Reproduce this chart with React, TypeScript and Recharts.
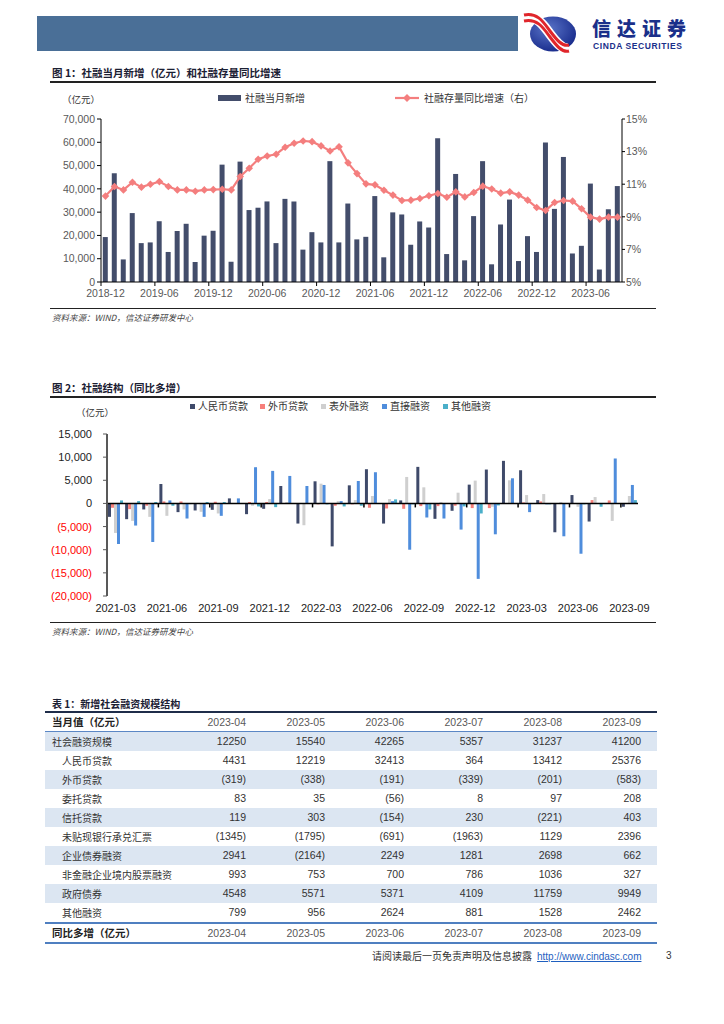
import React from 'react';
import { ComposedChart, BarChart, Bar, Line, XAxis, YAxis, ReferenceLine } from 'recharts';

// 图1：社融当月新增（亿元）与存量同比增速（%）
const tsfMonths = [
  '2018-12', '2019-01', '2019-02', '2019-03', '2019-04', '2019-05', '2019-06', '2019-07', '2019-08', '2019-09',
  '2019-10', '2019-11', '2019-12', '2020-01', '2020-02', '2020-03', '2020-04', '2020-05', '2020-06', '2020-07',
  '2020-08', '2020-09', '2020-10', '2020-11', '2020-12', '2021-01', '2021-02', '2021-03', '2021-04', '2021-05',
  '2021-06', '2021-07', '2021-08', '2021-09', '2021-10', '2021-11', '2021-12', '2022-01', '2022-02', '2022-03',
  '2022-04', '2022-05', '2022-06', '2022-07', '2022-08', '2022-09', '2022-10', '2022-11', '2022-12', '2023-01',
  '2023-02', '2023-03', '2023-04', '2023-05', '2023-06', '2023-07', '2023-08', '2023-09',
];
const tsfNew = [
  19300, 46700, 9700, 29600, 16700, 17000, 26100, 12900, 21900, 25000,
  8600, 19900, 22000, 50400, 8700, 51700, 30900, 31900, 34600, 16700,
  35700, 34600, 13900, 21400, 17000, 51900, 17000, 33700, 18300, 19400,
  36900, 10600, 29900, 29000, 16000, 26000, 23400, 61700, 12000, 46400,
  9300, 28300, 51900, 7600, 24700, 35400, 9000, 19700, 12900, 59900,
  31400, 53700, 12250, 15540, 42265, 5357, 31237, 41200,
];
const tsfYoy = [
  10.27, 10.86, 10.65, 11.12, 10.82, 11.0, 11.16, 10.86, 10.65, 10.65,
  10.57, 10.65, 10.67, 10.69, 10.65, 11.47, 11.98, 12.53, 12.73, 12.84,
  13.27, 13.51, 13.65, 13.61, 13.35, 13.04, 13.29, 12.31, 11.65, 11.02,
  10.96, 10.63, 10.33, 10.0, 10.02, 10.12, 10.29, 10.43, 10.2, 10.53,
  10.22, 10.49, 10.88, 10.71, 10.45, 10.53, 10.33, 10.02, 9.57, 9.39,
  9.88, 10.0, 9.96, 9.49, 8.98, 8.86, 8.98, 8.98,
];
const leftTicks1 = [0, 10000, 20000, 30000, 40000, 50000, 60000, 70000];
const rightTicks1 = [5, 7, 9, 11, 13, 15];

// 图2：社融结构（同比多增，亿元）
const structMonths = [
  '2021-03', '2021-04', '2021-05', '2021-06', '2021-07', '2021-08', '2021-09', '2021-10', '2021-11', '2021-12',
  '2022-01', '2022-02', '2022-03', '2022-04', '2022-05', '2022-06', '2022-07', '2022-08', '2022-09', '2022-10',
  '2022-11', '2022-12', '2023-01', '2023-02', '2023-03', '2023-04', '2023-05', '2023-06', '2023-07', '2023-08',
  '2023-09',
];
const rmbLoan = [
  -2900, -3400, -1300, 4200, -1880, -1520, -1380, 1090, -2320, -1160,
  3770, -4350, 4780, -9280, 3910, 7390, -4350, 650, 7900, -3330,
  -1590, 4060, 7320, 9200, 7170, 720, -6230, 1810, -3910, -100,
  -720,
];
const fxLoan = [
  -940, -1230, -500, 430, 430, -100, 360, 50, 300, 300,
  100, -100, -200, -500, -200, -940, -1090, -1160, -580, -580,
  -500, -1010, -1010, 50, 220, 430, 50, -50, 720, 650,
  50,
];
const offBalance = [
  -6380, -3770, -2900, -2680, -1300, -1810, -2170, -100, -500, 940,
  300, -4710, 4270, 500, 720, 1600, 940, 5720, 3480, 300,
  2320, 4930, -720, 5000, 1810, 2030, 300, -720, 1380, -3770,
  1600,
];
const directFin = [
  -8770, -4780, -8330, 650, -3260, -2900, -2680, 1090, 7830, 7030,
  5940, 3770, 3990, 500, 4850, 6740, 500, -10000, -3040, -3260,
  -5650, -16300, -6670, 5430, -1880, -200, -7100, -10870, -100, 9710,
  3990,
];
const otherFin = [
  650, 500, 300, -500, -150, 300, 300, 0, -650, -800,
  -100, 50, -200, -650, -500, 100, 870, -200, -1300, 50,
  -650, -2170, -430, 50, -100, -200, 50, -200, -720, 50,
  720,
];
const structTicks = [-20000, -15000, -10000, -5000, 0, 5000, 10000, 15000];

// 表1：新增社会融资规模结构
const tableMonths = ['2023-04', '2023-05', '2023-06', '2023-07', '2023-08', '2023-09'];
const tableLabels = [
  '社会融资规模', '人民币贷款', '外币贷款', '委托贷款', '信托贷款',
  '未贴现银行承兑汇票', '企业债券融资', '非金融企业境内股票融资', '政府债券', '其他融资',
];
const tableValues = [
  [12250, 15540, 42265, 5357, 31237, 41200],
  [4431, 12219, 32413, 364, 13412, 25376],
  [-319, -338, -191, -339, -201, -583],
  [83, 35, -56, 8, 97, 208],
  [119, 303, -154, 230, -221, 403],
  [-1345, -1795, -691, -1963, 1129, 2396],
  [2941, -2164, 2249, 1281, 2698, 662],
  [993, 753, 700, 786, 1036, 327],
  [4548, 5571, 5371, 4109, 11759, 9949],
  [799, 956, 2624, 881, 1528, 2462],
];

const CJK = '"Noto Sans CJK SC", "Noto Sans", sans-serif';
const SANS = '"Liberation Sans", Arial, sans-serif';

const data1 = tsfMonths.map((m, i) => ({ m, v: tsfNew[i], y: tsfYoy[i] }));
const data2 = structMonths.map((m, i) => ({
  m, rmb: rmbLoan[i], fx: fxLoan[i], off: offBalance[i], dir: directFin[i], oth: otherFin[i],
}));

// chart geometry
const C1 = { left: 40, top: 90, width: 640, height: 230 };
const M1 = { top: 29, right: 18, left: 11, bottom: 8 };
const BAND1 = (C1.width - M1.left - M1.right - 50 - 40) / tsfMonths.length;

const C2 = { left: 40, top: 395, width: 610, height: 227 };
const M2 = { top: 39, right: 12, left: 11, bottom: 2 };
const PLOT2_H = C2.height - M2.top - M2.bottom - 24;
const BAND2 = (C2.width - M2.left - M2.right - 56) / structMonths.length;

const fmt = (v: number) => v.toLocaleString('en-US');
const paren = (v: number) => (v < 0 ? `(${Math.abs(v)})` : String(v));

const XTick1 = ({ x, y, payload }: any) => (
  <g>
    <line x1={x - BAND1 / 2} x2={x - BAND1 / 2} y1={y} y2={y + 4} stroke="#000" />
    <text x={x} y={y + 15} textAnchor="middle" fontSize={10.5} fill="#595959" fontFamily={SANS}>
      {payload.value}
    </text>
  </g>
);

const XTick2 = ({ x, y, payload, index }: any) => {
  const zeroY = y - (PLOT2_H * 20000) / 35000;
  return (
    <g>
      {index > 0 && <line x1={x - BAND2 / 2} x2={x - BAND2 / 2} y1={zeroY} y2={zeroY + 4} stroke="#000" strokeWidth={1.5} />}
      <text x={x} y={y + 16} textAnchor="middle" fontSize={11} fill="#222" fontFamily={SANS}>
        {payload.value}
      </text>
    </g>
  );
};

const YTick2 = ({ x, y, payload }: any) => {
  const v = payload.value;
  const s = v < 0 ? `(${fmt(Math.abs(v))})` : fmt(v);
  return (
    <text x={x} y={y} dy={4} textAnchor="end" fontSize={11} fill={v < 0 ? '#ff0000' : '#222'} fontFamily={SANS}>
      {s}
    </text>
  );
};

const Diamond = (props: any) => {
  const { cx, cy, index } = props;
  if (cx == null || cy == null) return <g key={index} />;
  const r = 3.8;
  return (
    <polygon
      key={index}
      points={`${cx},${cy - r} ${cx + r},${cy} ${cx},${cy + r} ${cx - r},${cy}`}
      fill="#f47e7e"
    />
  );
};

const abs = (left: number, top: number, extra: React.CSSProperties = {}): React.CSSProperties => ({
  position: 'absolute', left, top, whiteSpace: 'nowrap', ...extra,
});

const Rule = ({ top, h = 1, color = '#222' }: { top: number; h?: number; color?: string }) => (
  <div style={{ position: 'absolute', left: 50, top, width: 606, height: h, background: color }} />
);

const Swatch = ({ left, top, color, label }: { left: number; top: number; color: string; label: string }) => (
  <div style={abs(left, top, { fontFamily: CJK, fontSize: 10, color: '#333', lineHeight: '12px' })}>
    <span style={{ display: 'inline-block', width: 5, height: 5, background: color, marginRight: 3, verticalAlign: 1 }} />
    {label}
  </div>
);

const colRight = [246, 325, 404, 483, 562, 641];

export default function App() {
  const rowTop = 732;
  const rowH = 19;
  return (
    <div style={{ position: 'absolute', left: 0, top: 0, width: 724, height: 1024, background: '#fff', overflow: 'hidden' }}>
      {/* header */}
      <div style={{ position: 'absolute', left: 37, top: 16, width: 481, height: 35, background: '#4a6f97' }} />
      <svg style={{ position: 'absolute', left: 522, top: 12 }} width={60} height={44}>
        <defs>
          <radialGradient id="ball" cx="40%" cy="35%" r="70%">
            <stop offset="0%" stopColor="#5a74c8" />
            <stop offset="100%" stopColor="#16298a" />
          </radialGradient>
        </defs>
        <ellipse cx={31} cy={22} rx={23} ry={17.5} fill="url(#ball)" />
        <path d="M 2 6 C 16 3, 22 14, 28 22 S 40 38, 47 36" fill="none" stroke="#fff" strokeWidth={10} />
        <path d="M 2 3 C 16 0, 22 11, 28 19 S 40 35, 47 33" fill="none" stroke="#e0262b" strokeWidth={3} />
        <path d="M 2 9 C 16 6, 22 17, 28 25 S 40 41, 47 39" fill="none" stroke="#e0262b" strokeWidth={3} />
      </svg>
      <div style={abs(592, 18, { fontFamily: CJK, fontWeight: 900, fontSize: 19, color: '#1a2f8a', letterSpacing: 6, lineHeight: '20px' })}>
        信达证券
      </div>
      <div style={abs(593, 42, { fontFamily: SANS, fontWeight: 700, fontSize: 8.5, color: '#1a2f8a', letterSpacing: 0.6, lineHeight: '9px' })}>
        CINDA SECURITIES
      </div>

      {/* figure 1 */}
      <div style={abs(52, 66, { fontFamily: CJK, fontWeight: 700, fontSize: 10.5, color: '#1b2033', lineHeight: '14px' })}>
        图 1：社融当月新增（亿元）和社融存量同比增速
      </div>
      <Rule top={81} h={1.5} />
      <div style={abs(62, 93, { fontFamily: CJK, fontSize: 9.5, color: '#333', lineHeight: '12px' })}>（亿元）</div>
      <div style={abs(218, 92, { fontFamily: CJK, fontSize: 10, color: '#333', lineHeight: '12px' })}>
        <span style={{ display: 'inline-block', width: 23, height: 6, background: '#434d6b', marginRight: 4, verticalAlign: 1 }} />
        社融当月新增
      </div>
      <svg style={{ position: 'absolute', left: 395, top: 92 }} width={26} height={12}>
        <line x1={0} x2={24} y1={6} y2={6} stroke="#f47e7e" strokeWidth={2.2} />
        <polygon points="12,2 16,6 12,10 8,6" fill="#f47e7e" />
      </svg>
      <div style={abs(424, 92, { fontFamily: CJK, fontSize: 10, color: '#333', lineHeight: '12px' })}>
        社融存量同比增速（右）
      </div>
      <div style={{ position: 'absolute', left: C1.left, top: C1.top }}>
        <ComposedChart width={C1.width} height={C1.height} data={data1} margin={M1} barCategoryGap="20%">
          <XAxis
            dataKey="m"
            interval={5}
            tick={<XTick1 />}
            tickLine={false}
            tickSize={0}
            tickMargin={0}
            height={30}
            axisLine={{ stroke: '#000' }}
          />
          <YAxis
            yAxisId="l"
            width={50}
            domain={[0, 70000]}
            ticks={leftTicks1}
            tickFormatter={fmt}
            tick={{ fontSize: 10.5, fill: '#595959', fontFamily: SANS }}
            tickSize={4}
            tickMargin={2}
            axisLine={{ stroke: '#000' }}
            tickLine={{ stroke: '#000' }}
          />
          <YAxis
            yAxisId="r"
            orientation="right"
            width={40}
            domain={[5, 15]}
            ticks={rightTicks1}
            tickFormatter={(v: number) => `${v}%`}
            tick={{ fontSize: 10.5, fill: '#595959', fontFamily: SANS, textAnchor: 'start' }}
            tickSize={3}
            tickMargin={1}
            axisLine={{ stroke: '#000' }}
            tickLine={{ stroke: '#000' }}
          />
          <Bar yAxisId="l" dataKey="v" fill="#434d6b" isAnimationActive={false} />
          <Line
            yAxisId="r"
            dataKey="y"
            stroke="#f47e7e"
            strokeWidth={2.2}
            dot={<Diamond />}
            activeDot={false}
            isAnimationActive={false}
          />
        </ComposedChart>
      </div>
      <Rule top={308} h={1} />
      <div style={abs(52, 311, { fontFamily: CJK, fontStyle: 'italic', fontSize: 8.5, color: '#444', lineHeight: '12px' })}>
        资料来源：WIND，信达证券研发中心
      </div>

      {/* figure 2 */}
      <div style={abs(52, 381, { fontFamily: CJK, fontWeight: 700, fontSize: 10.5, color: '#1b2033', lineHeight: '14px' })}>
        图 2：社融结构（同比多增）
      </div>
      <Rule top={396} h={1.5} />
      <Swatch left={190} top={400} color="#3f4a6a" label="人民币贷款" />
      <Swatch left={260} top={400} color="#f77f7a" label="外币贷款" />
      <Swatch left={321} top={400} color="#cfcfcf" label="表外融资" />
      <Swatch left={382} top={400} color="#4f8ddc" label="直接融资" />
      <Swatch left={443} top={400} color="#4aafc9" label="其他融资" />
      <div style={abs(76, 406, { fontFamily: CJK, fontSize: 9.5, color: '#333', lineHeight: '12px' })}>（亿元）</div>
      <div style={{ position: 'absolute', left: C2.left, top: C2.top }}>
        <BarChart width={C2.width} height={C2.height} data={data2} margin={M2} barGap={0} barCategoryGap={1}>
          <XAxis
            dataKey="m"
            interval={2}
            tick={<XTick2 />}
            tickLine={false}
            tickSize={0}
            tickMargin={0}
            height={24}
            axisLine={false}
          />
          <YAxis
            width={56}
            domain={[-20000, 15000]}
            ticks={structTicks}
            tick={<YTick2 />}
            tickSize={4}
            tickMargin={11}
            axisLine={{ stroke: '#595959', strokeWidth: 2 }}
            tickLine={{ stroke: '#595959' }}
          />
          <Bar dataKey="rmb" fill="#3f4a6a" isAnimationActive={false} />
          <Bar dataKey="fx" fill="#f77f7a" isAnimationActive={false} />
          <Bar dataKey="off" fill="#cfcfcf" isAnimationActive={false} />
          <Bar dataKey="dir" fill="#4f8ddc" isAnimationActive={false} />
          <Bar dataKey="oth" fill="#4aafc9" isAnimationActive={false} />
          <ReferenceLine y={0} stroke="#000" strokeWidth={1.5} />
        </BarChart>
      </div>
      <Rule top={622} h={1} />
      <div style={abs(52, 625, { fontFamily: CJK, fontStyle: 'italic', fontSize: 8.5, color: '#444', lineHeight: '12px' })}>
        资料来源：WIND，信达证券研发中心
      </div>

      {/* table 1 */}
      <div style={abs(52, 697, { fontFamily: CJK, fontWeight: 700, fontSize: 10, color: '#1b2033', lineHeight: '14px' })}>
        表 1：新增社会融资规模结构
      </div>
      <div style={{ position: 'absolute', left: 45, top: 711, width: 612, height: 1.5, background: '#1f2d4a' }} />
      <div style={abs(52, 715, { fontFamily: CJK, fontWeight: 700, fontSize: 10.5, color: '#222', lineHeight: '14px' })}>
        当月值（亿元）
      </div>
      {tableMonths.map((m, j) => (
        <div key={m} style={abs(0, 715, { left: undefined, right: 724 - colRight[j], fontFamily: SANS, fontSize: 10.5, color: '#595959', lineHeight: '14px' })}>
          {m}
        </div>
      ))}
      <div style={{ position: 'absolute', left: 45, top: 731, width: 612, height: 1, background: '#5b87c5' }} />
      {tableLabels.map((label, i) => (
        <div
          key={label}
          style={{
            position: 'absolute', left: 45, top: rowTop + i * rowH, width: 612, height: rowH,
            background: i % 2 === 0 ? '#dce6f2' : '#fff',
          }}
        >
          <div style={abs(i === 0 ? 7 : 17, 3, { fontFamily: CJK, fontSize: 10, color: '#333', lineHeight: '13px' })}>{label}</div>
          {tableValues[i].map((v, j) => (
            <div key={j} style={abs(0, 3, { left: undefined, right: 657 - colRight[j], fontFamily: SANS, fontSize: 10.5, color: '#333', lineHeight: '13px' })}>
              {paren(v)}
            </div>
          ))}
        </div>
      ))}
      <div style={{ position: 'absolute', left: 45, top: 922, width: 612, height: 1.5, background: '#4f7fc0' }} />
      <div style={abs(52, 926, { fontFamily: CJK, fontWeight: 700, fontSize: 10.5, color: '#222', lineHeight: '14px' })}>
        同比多增（亿元）
      </div>
      {tableMonths.map((m, j) => (
        <div key={m} style={abs(0, 926, { left: undefined, right: 724 - colRight[j], fontFamily: SANS, fontSize: 10.5, color: '#595959', lineHeight: '14px' })}>
          {m}
        </div>
      ))}
      <div style={{ position: 'absolute', left: 45, top: 942, width: 612, height: 2, background: '#4f7fc0' }} />

      {/* footer */}
      <div style={abs(372, 949, { fontFamily: CJK, fontSize: 10, color: '#333', lineHeight: '14px' })}>
        请阅读最后一页免责声明及信息披露
        <span style={{ fontFamily: SANS, color: '#1f5fbf', textDecoration: 'underline', marginLeft: 5 }}>http://www.cindasc.com</span>
      </div>
      <div style={abs(666, 949, { fontFamily: SANS, fontSize: 10, color: '#333', lineHeight: '14px' })}>3</div>
    </div>
  );
}
